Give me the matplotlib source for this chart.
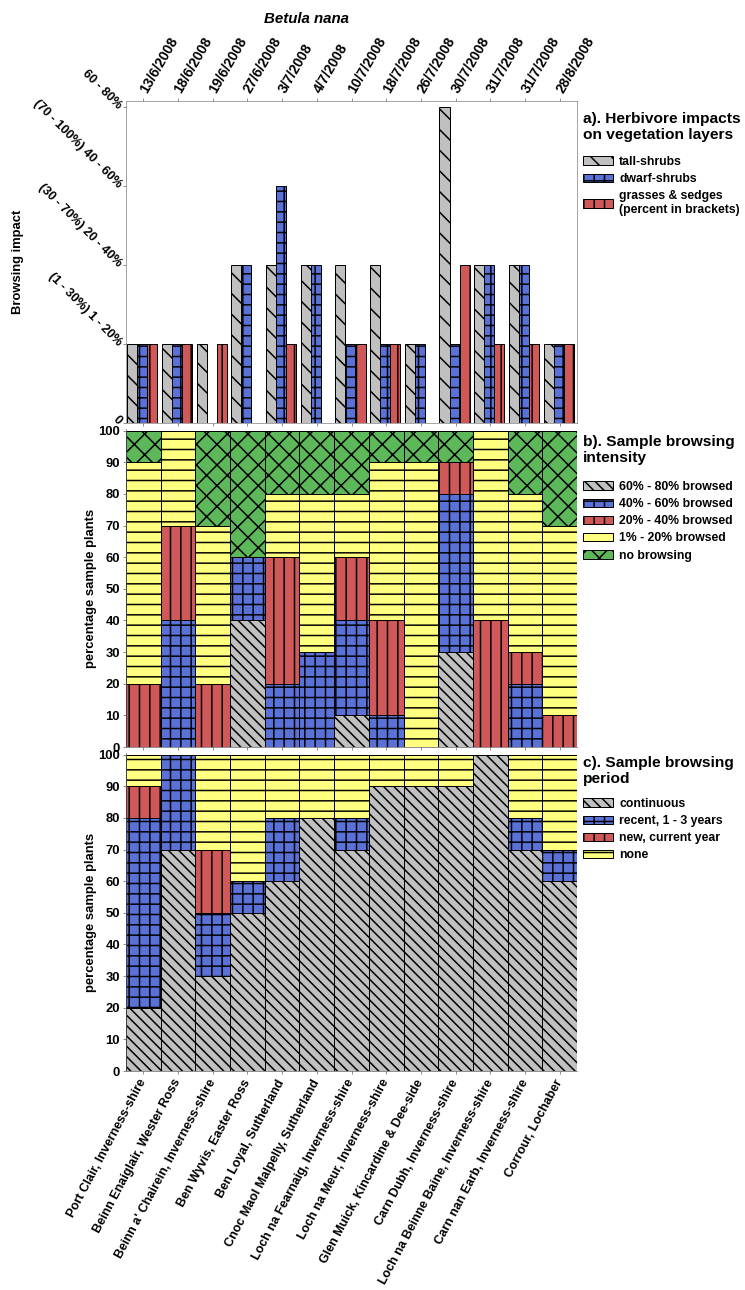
import numpy as np
import matplotlib.pyplot as plt
from matplotlib.patches import Patch

# hatch spacing in matplotlib is tied to dpi, so render at a low dpi
DPI = 62.5
W, H = 745, 1290


def pt(px):
    return px * 72 / DPI


sites = ["Port Clair, Inverness-shire", "Beinn Enaiglair, Wester Ross",
         "Beinn a' Chairein, Inverness-shire", "Ben Wyvis, Easter Ross",
         "Ben Loyal, Sutherland", "Cnoc Maol Malpelly, Sutherland",
         "Loch na Fearnaig, Inverness-shire", "Loch na Meur, Inverness-shire",
         "Glen Muick, Kincardine & Dee-side", "Carn Dubh, Inverness-shire",
         "Loch na Beinne Baine, Inverness-shire", "Carn nan Earb, Inverness-shire",
         "Corrour, Lochaber"]
dates = ["13/6/2008", "18/6/2008", "19/6/2008", "27/6/2008", "3/7/2008", "4/7/2008",
         "10/7/2008", "18/7/2008", "26/7/2008", "30/7/2008", "31/7/2008", "31/7/2008",
         "28/8/2008"]

# a) impact classes 0-4
impact_ticks = ["0", "(1 - 30%) 1 - 20%", "(30 - 70%) 20 - 40%", "(70 - 100%) 40 - 60%", "60 - 80%"]
tall_shrubs = [1, 1, 1, 2, 2, 2, 2, 2, 1, 4, 2, 2, 1]
dwarf_shrubs = [1, 1, 0, 2, 3, 2, 1, 1, 1, 1, 2, 2, 1]
grasses = [1, 1, 1, 0, 1, 0, 1, 1, 0, 2, 1, 1, 1]

# b) browsing intensity (% of sample plants)
int_60_80 = [0, 0, 0, 40, 0, 0, 10, 0, 0, 30, 0, 0, 0]
int_40_60 = [0, 40, 0, 20, 20, 30, 30, 10, 0, 50, 0, 20, 0]
int_20_40 = [20, 30, 20, 0, 40, 0, 20, 30, 0, 10, 40, 10, 10]
int_1_20 = [70, 30, 50, 0, 20, 50, 20, 50, 90, 0, 60, 50, 60]
int_none = [10, 0, 30, 40, 20, 20, 20, 10, 10, 10, 0, 20, 30]

# c) browsing period (% of sample plants)
per_continuous = [20, 70, 30, 50, 60, 80, 70, 90, 90, 90, 100, 70, 60]
per_recent = [60, 30, 20, 10, 20, 0, 10, 0, 0, 0, 0, 10, 10]
per_new = [10, 0, 20, 0, 0, 0, 0, 0, 0, 0, 0, 0, 0]
per_none = [10, 0, 30, 40, 20, 20, 20, 10, 10, 10, 0, 20, 30]

GREY = '#C0C0C0'
BLUE = '#5A72D8'
RED = '#D05858'
YELLOW = '#FFFF80'
GREEN = '#5DB85A'

plt.rcParams['font.family'] = ['Liberation Sans', 'DejaVu Sans']
plt.rcParams['font.weight'] = 'bold'
plt.rcParams['axes.labelweight'] = 'bold'
plt.rcParams['hatch.linewidth'] = pt(1.5)

FS = pt(13)
fig = plt.figure(figsize=(W / DPI, H / DPI), dpi=DPI)

left, width = 126 / W, 451 / W
ax_a = fig.add_axes([left, 1 - 423 / H, width, 322 / H])
ax_b = fig.add_axes([left, 1 - 747 / H, width, 318 / H])
ax_c = fig.add_axes([left, 1 - 1071 / H, width, 318 / H])

x = np.arange(len(sites))
ec = dict(edgecolor='black', linewidth=pt(1))

# ---- a) herbivore impacts
bw = 0.29
ax_a.bar(x - 0.32, tall_shrubs, bw, color=GREY, hatch='\\', **ec)
ax_a.bar(x - 0.03, dwarf_shrubs, bw, color=BLUE, hatch='+', **ec)
ax_a.bar(x + 0.26, grasses, bw, color=RED, hatch='|', **ec)
ax_a.set_xlim(-0.5, len(sites) - 0.5)
ax_a.set_ylim(0, 4.08)
ax_a.set_yticks(range(5))
ax_a.set_yticklabels(impact_ticks, rotation=-45, ha='right', va='center',
                     rotation_mode='anchor', fontsize=pt(12.5))
ax_a.set_xticks(x)
ax_a.tick_params(top=True, labeltop=True, bottom=True, labelbottom=False, color='#606060')
ax_a.tick_params(axis='x', pad=pt(6))
ax_a.set_xticklabels(dates, rotation=60, ha='left', va='center', rotation_mode='anchor',
                     fontsize=pt(14))
for s in ax_a.spines.values():
    s.set_color('#808080')
ax_a.set_ylabel('Browsing impact', fontsize=FS)
ax_a.yaxis.set_label_coords((24 - 126) / 451, 0.5)

# ---- b) browsing intensity
b_series = [int_60_80, int_40_60, int_20_40, int_1_20, int_none]
b_labels = ['60% - 80% browsed', '40% - 60% browsed', '20% - 40% browsed',
            '1% - 20% browsed', 'no browsing']
b_style = [(GREY, '\\\\'), (BLUE, '+'), (RED, '|'), (YELLOW, '-'), (GREEN, 'x')]
bottom = np.zeros(len(sites))
for vals, (col, hat) in zip(b_series, b_style):
    ax_b.bar(x, vals, 1.0, bottom=bottom, color=col, hatch=hat, **ec)
    bottom += np.array(vals)

# ---- c) browsing period
c_series = [per_continuous, per_recent, per_new, per_none]
c_labels = ['continuous', 'recent, 1 - 3 years', 'new, current year', 'none']
c_style = [(GREY, '\\\\'), (BLUE, '+'), (RED, '|'), (YELLOW, '-')]
bottom = np.zeros(len(sites))
for vals, (col, hat) in zip(c_series, c_style):
    ax_c.bar(x, vals, 1.0, bottom=bottom, color=col, hatch=hat, **ec)
    bottom += np.array(vals)

for ax in (ax_b, ax_c):
    ax.set_xlim(-0.5, len(sites) - 0.5)
    ax.set_ylim(0, 100.5)
    ax.set_yticks(range(0, 101, 10))
    ax.tick_params(axis='y', labelsize=FS, color='#606060')
    ax.tick_params(axis='x', color='#606060')
    ax.set_xticks(x)
    ax.spines['top'].set_visible(False)
    ax.spines['right'].set_visible(False)
    for s in ('left', 'bottom'):
        ax.spines[s].set_color('#606060')
    ax.set_ylabel('percentage sample plants', fontsize=FS)
    ax.yaxis.set_label_coords((97 - 126) / 451, 0.5)

ax_b.set_xticklabels([])
ax_c.tick_params(axis='x', pad=pt(6))
ax_c.set_xticklabels(sites, rotation=62, ha='right', va='center',
                     rotation_mode='anchor', fontsize=pt(12.5))

# ---- legends: titles as text, entries as legends
legend_kw = dict(loc='upper left', frameon=False, fontsize=pt(12.3),
                 handlelength=2.4, handleheight=0.7, handletextpad=0.55,
                 labelspacing=0.42, borderpad=0, borderaxespad=0)
legends = [
    ('a). Herbivore impacts\non vegetation layers', 127, 156,
     [Patch(facecolor=GREY, hatch='\\', **ec), Patch(facecolor=BLUE, hatch='+', **ec),
      Patch(facecolor=RED, hatch='|', **ec)],
     ['tall-shrubs', 'dwarf-shrubs', 'grasses & sedges\n(percent in brackets)']),
    ('b). Sample browsing\nintensity', 450, 481,
     [Patch(facecolor=c, hatch=h, **ec) for c, h in b_style], b_labels),
    ('c). Sample browsing\nperiod', 771, 798,
     [Patch(facecolor=c, hatch=h, **ec) for c, h in c_style], c_labels),
]
for title, ty, ly, handles, labels in legends:
    fig.text(583 / W, 1 - ty / H, title, ha='left', va='center', fontsize=pt(15.5),
             fontweight='bold', linespacing=1.2)
    fig.legend(handles, labels, bbox_to_anchor=(583 / W, 1 - ly / H), **legend_kw)

fig.text(307 / W, 1 - 19 / H, 'Betula nana', ha='center', va='center',
         fontsize=pt(15), fontstyle='italic', fontweight='bold')

fig.savefig('out.png', dpi=DPI)
